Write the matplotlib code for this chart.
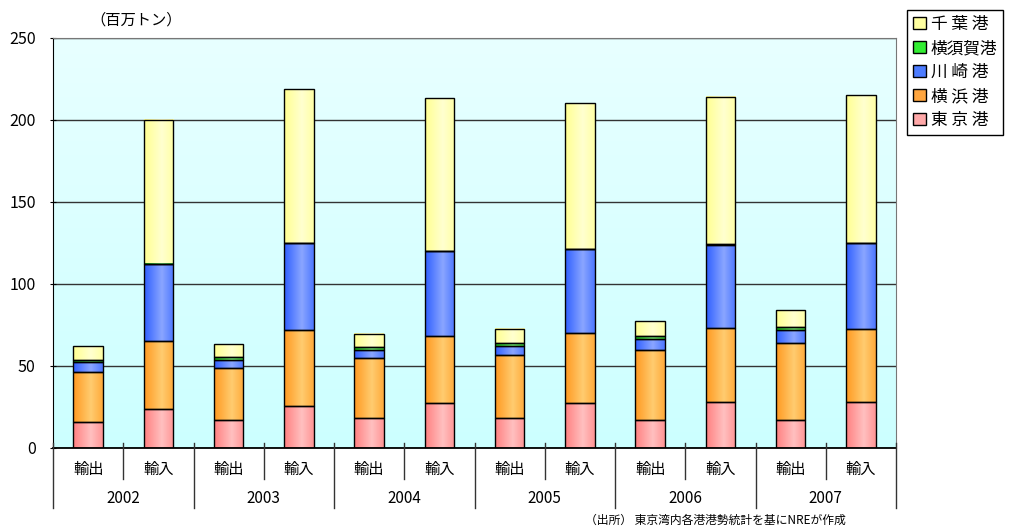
import numpy as np
import matplotlib
matplotlib.use("Agg")
import matplotlib.pyplot as plt
from matplotlib.colors import LinearSegmentedColormap, to_rgb
from matplotlib.patches import Patch

plt.rcParams['font.family'] = ['Noto Sans CJK JP', 'DejaVu Sans']

# 東京湾各港の取扱貨物量（百万トン） 輸出/輸入 x 年
years = ['2002', '2003', '2004', '2005', '2006', '2007']
flows = ['輸出', '輸入']

tokyo = [15.7, 23.8, 17.1, 25.8, 18.1, 27.2, 18.5, 27.4, 17.1, 28.0, 17.3, 28.2]
yokohama = [30.8, 41.6, 31.7, 46.2, 36.6, 41.3, 38.0, 42.5, 42.5, 45.2, 46.5, 44.6]
kawasaki = [5.7, 46.8, 4.9, 52.8, 4.9, 51.6, 5.7, 51.4, 7.1, 50.6, 8.2, 52.2]
yokosuka = [1.5, 0.3, 2.0, 0.3, 2.0, 0.3, 2.0, 0.3, 1.8, 0.3, 1.8, 0.3]
chiba = [8.3, 87.3, 7.9, 93.6, 8.1, 93.2, 8.6, 89.0, 8.7, 89.9, 10.3, 89.7]

series = [
    ('東 京 港', tokyo, '#ff8080', '#ffc0c0'),
    ('横 浜 港', yokohama, '#ff9920', '#ffcc70'),
    ('川 崎 港', kawasaki, '#3060ff', '#8aa6ff'),
    ('横須賀港', yokosuka, '#10cc10', '#80ff80'),
    ('千 葉 港', chiba, '#ffff90', '#ffffd0'),
]
legend_colors = ['#ffa8a8', '#ffa640', '#4d7cff', '#33ee33', '#ffffa0']

fig = plt.figure(figsize=(10.09, 5.31), dpi=100)
ax = fig.add_axes([53 / 1009, 83 / 531, 843 / 1009, 410 / 531])

n = len(years) * len(flows)
x = np.arange(n)
width = 0.42

# background gradient of the plot area
bg = LinearSegmentedColormap.from_list('bg', ['#ccffff', '#e8ffff'])
ax.imshow(np.linspace(0, 1, 256).reshape(-1, 1), cmap=bg, origin='lower',
          extent=(-0.5, n - 0.5, 0, 250), aspect='auto', zorder=0)


def shade(dark, light):
    d = np.array(to_rgb(dark))
    l = np.array(to_rgb(light))
    t = np.linspace(0, 1, 64)
    w = np.clip(1 - np.abs(t - 0.6) / 0.6, 0, 1)
    return np.clip(d[None, :] + (l - d)[None, :] * w[:, None], 0, 1)[None, :, :]


bottom = np.zeros(n)
for name, vals, dark, light in series:
    bars = ax.bar(x, vals, width, bottom=bottom, facecolor='none',
                  edgecolor='black', linewidth=1.0, zorder=3)
    grad = shade(dark, light)
    for p in bars.patches:
        x0, y0 = p.get_x(), p.get_y()
        ax.imshow(grad, extent=(x0, x0 + p.get_width(), y0, y0 + p.get_height()),
                  aspect='auto', zorder=2, interpolation='bilinear')
    bottom = bottom + np.array(vals)

ax.set_xlim(-0.5, n - 0.5)
ax.set_ylim(0, 250)
ax.set_yticks(range(0, 251, 50))
ax.yaxis.grid(True, color='#333333', linewidth=1.0)
ax.set_axisbelow(True)
ax.tick_params(axis='y', direction='inout', length=5, labelsize=11.5, pad=10)
ax.set_xticks([])

for s in ['top', 'right']:
    ax.spines[s].set_color('#777777')
ax.spines['left'].set_color('black')
ax.spines['bottom'].set_color('black')
ax.spines['bottom'].set_linewidth(1.3)

# two-level category axis
tr = ax.get_xaxis_transform()
for i in range(n):
    ax.text(x[i], -0.053, flows[i % 2], transform=tr, ha='center', va='center',
            fontsize=11)
for j, yr in enumerate(years):
    ax.text(2 * j + 0.5, -0.122, yr, transform=tr, ha='center', va='center',
            fontsize=11)
for b in np.arange(-0.5, n, 1.0):
    year_edge = (b + 0.5) % 2 == 0
    low = -0.146 if year_edge else -0.076
    ax.plot([b, b], [0.012, low], transform=tr, color='#333333', lw=1.0,
            clip_on=False, zorder=4)

fig.text(90 / 1009, 1 - 20 / 531, '（百万トン）', fontsize=11, va='center')
fig.text(715 / 1009, 1 - 520 / 531, '（出所） 東京湾内各港港勢統計を基にNREが作成',
         fontsize=8.5, ha='center', va='center')

handles = [Patch(facecolor=c, edgecolor='black', label=s[0])
           for s, c in zip(series, legend_colors)][::-1]
leg = fig.legend(handles=handles, loc='upper left',
                 bbox_to_anchor=(899 / 1009, 1 - 2 / 531),
                 fontsize=12, handlelength=0.75, handleheight=0.75,
                 handletextpad=0.3, labelspacing=0.42, borderpad=0.35,
                 fancybox=False, framealpha=1, edgecolor='black')
leg.get_frame().set_linewidth(1.0)

fig.savefig('out.png', dpi=100)
